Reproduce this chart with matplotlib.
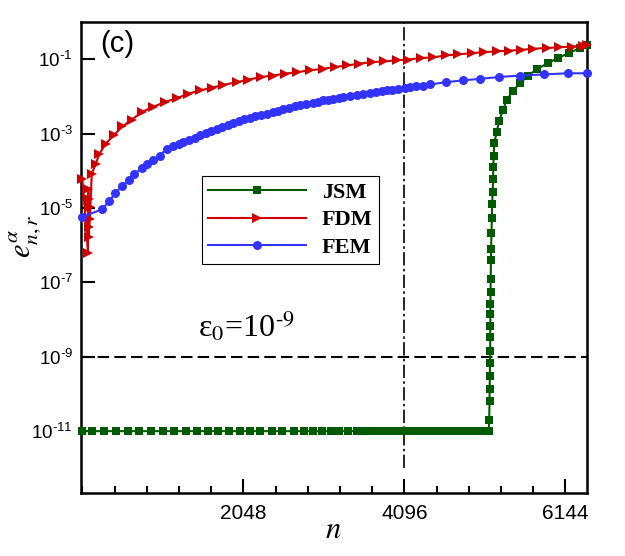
import numpy as np
import matplotlib
matplotlib.use("Agg")
import matplotlib.pyplot as plt
from matplotlib.ticker import FixedLocator, MultipleLocator, NullLocator

plt.rcParams['font.family'] = 'Liberation Sans'
plt.rcParams['mathtext.fontset'] = 'custom'
plt.rcParams['mathtext.rm'] = 'Liberation Sans'
plt.rcParams['mathtext.it'] = 'Liberation Sans:italic'

# values: n and log10(error)
jsm_n = [0, 119, 276, 429, 577, 725, 874, 1022, 1166, 1315, 1455, 1595, 1730, 1866,
         2002, 2133, 2264, 2409, 2536, 2690, 2820, 2935, 3050, 3160, 3270, 3380, 3490,
         3600, 3700, 3800, 3900, 4000, 4100, 4200, 4300, 4400, 4500, 4600, 4700, 4800,
         4900, 5000, 5090, 5170,
         5176, 5180, 5182, 5184, 5186, 5188, 5189, 5190, 5191, 5192, 5193, 5195, 5198,
         5200, 5205, 5210, 5213, 5220, 5225, 5228, 5233, 5240, 5271, 5301, 5348, 5398,
         5474, 5568, 5674, 5788, 5920, 6047, 6187, 6331, 6416]
jsm_exp = [-11.0, -11.0, -11.0, -11.0, -11.0, -11.0, -11.0, -11.0, -11.0, -11.0, -11.0,
           -11.0, -11.0, -11.0, -11.0, -11.0, -11.0, -11.0, -11.0, -11.0, -11.0, -11.0,
           -11.0, -11.0, -11.0, -11.0, -11.0, -11.0, -11.0, -11.0, -11.0, -11.0, -11.0,
           -11.0, -11.0, -11.0, -11.0, -11.0, -11.0, -11.0, -11.0, -11.0, -11.0, -11.0,
           -10.70, -10.19, -9.87, -9.51, -9.18, -8.84, -8.48, -8.18, -7.86, -7.57, -7.26,
           -6.92, -6.40, -6.09, -5.67, -5.27, -4.90, -4.57, -4.23, -3.90, -3.59, -3.26,
           -2.96, -2.67, -2.38, -2.11, -1.86, -1.64, -1.44, -1.26, -1.11, -0.97, -0.84,
           -0.70, -0.63]

fdm_n = [0, 72, 76, 80, 84, 88, 92, 96, 120, 170, 215, 300, 407, 509, 628, 756, 895,
         1052, 1201, 1348, 1497, 1646, 1794, 1964, 2112, 2269, 2422, 2578, 2727, 2896,
         3066, 3214, 3363, 3523, 3681, 3838, 3999, 4147, 4308, 4465, 4626, 4783, 4953,
         5113, 5271, 5428, 5580, 5737, 5907, 6067, 6225, 6373, 6416]
fdm_exp = [-4.21, -6.20, -4.48, -5.78, -4.75, -5.51, -4.98, -5.29, -4.08, -3.82, -3.55,
           -3.27, -3.03, -2.81, -2.63, -2.42, -2.29, -2.15, -2.05, -1.93, -1.84, -1.77,
           -1.69, -1.62, -1.55, -1.48, -1.44, -1.39, -1.35, -1.30, -1.26, -1.21, -1.17,
           -1.12, -1.08, -1.06, -1.03, -1.01, -0.97, -0.95, -0.90, -0.87, -0.84, -0.81,
           -0.79, -0.77, -0.75, -0.72, -0.70, -0.68, -0.66, -0.64, -0.63]

fem_n = [0, 247, 344, 416, 501, 594, 662, 756, 819, 903, 988, 1073, 1150, 1230, 1285,
         1360, 1430, 1497, 1570, 1640, 1710, 1780, 1850, 1921, 1990, 2060, 2133, 2200,
         2270, 2346, 2420, 2490, 2557, 2630, 2700, 2769, 2850, 2930, 3002, 3066, 3130,
         3193, 3260, 3320, 3400, 3490, 3570, 3660, 3730, 3808, 3870, 3936, 4020, 4105,
         4170, 4245, 4330, 4423, 4626, 4839, 5059, 5300, 5568, 5873, 6174, 6416]
fem_exp = [-5.24, -5.04, -4.82, -4.60, -4.42, -4.24, -4.08, -3.93, -3.83, -3.70, -3.59,
           -3.41, -3.34, -3.28, -3.23, -3.17, -3.11, -3.05, -2.99, -2.93, -2.87, -2.82,
           -2.77, -2.72, -2.67, -2.62, -2.57, -2.54, -2.50, -2.47, -2.43, -2.39, -2.35,
           -2.31, -2.27, -2.24, -2.21, -2.18, -2.15, -2.11, -2.10, -2.08, -2.05, -2.02,
           -1.99, -1.96, -1.93, -1.90, -1.88, -1.86, -1.84, -1.82, -1.80, -1.77, -1.75,
           -1.73, -1.71, -1.68, -1.62, -1.57, -1.53, -1.48, -1.44, -1.41, -1.38, -1.38]

eps0 = 1e-9
n_mark = 4096
x_ticks = [2048, 4096, 6144]
y_tick_exp = [-1, -3, -5, -7, -9, -11]

fig = plt.figure(figsize=(6.25, 5.56), dpi=100)
ax = fig.add_axes([0.1296, 0.1128, 0.8091, 0.8477])
ax.set_yscale('log')

ax.axhline(eps0, color='k', lw=1.5, linestyle=(0, (5.5, 2.5)), zorder=1)
ax.vlines(n_mark, 1e-12, 1.0, color='k', lw=1.2, linestyles=[(0, (8, 2, 1.5, 2))], zorder=1)

ax.plot(jsm_n, 10 ** np.array(jsm_exp), color='#005a00', lw=1.5, marker='s', ms=5.8,
        mew=0, label='JSM', clip_on=False, zorder=3)
ax.plot(fdm_n, 10 ** np.array(fdm_exp), color='#d00000', lw=1.5, marker='>', ms=7,
        mew=0, label='FDM', clip_on=False, zorder=3)
ax.plot(fem_n, 10 ** np.array(fem_exp), color='#3333ff', lw=1.5, marker='o', ms=6.5,
        mew=0, label='FEM', clip_on=False, zorder=3)

ax.set_xlim(-17, 6416)
ax.set_ylim(10 ** -12.67, 1.0)

ax.xaxis.set_major_locator(FixedLocator(x_ticks))
ax.xaxis.set_minor_locator(MultipleLocator(409.6))
ax.set_xticklabels([str(v) for v in x_ticks])
ax.yaxis.set_major_locator(FixedLocator([10.0 ** e for e in y_tick_exp]))
ax.yaxis.set_minor_locator(NullLocator())
ax.set_yticklabels(['10$^{\\text{-}%d}$' % -e for e in y_tick_exp])

ax.tick_params(which='both', direction='in', top=False, right=False, width=1.5)
ax.tick_params(which='major', length=10)
ax.tick_params(which='minor', length=5)
ax.tick_params(axis='x', labelsize=15, pad=8)
ax.tick_params(axis='y', labelsize=13.5, pad=6)
for sp in ax.spines.values():
    sp.set_linewidth(1.8)

leg = ax.legend(loc='upper left', bbox_to_anchor=(201.7 / 625, 1 - 176 / 556),
                bbox_transform=fig.transFigure,
                prop=dict(family='Liberation Serif', weight='bold', size=16),
                fancybox=False, edgecolor='k', framealpha=1, borderpad=0.3,
                handlelength=4.4, handletextpad=0.7, labelspacing=0.3,
                borderaxespad=0, numpoints=1)
leg.get_frame().set_linewidth(0.8)

fig.text(100 / 625, 1 - 44 / 556, '(c)', fontsize=21, va='center', ha='left')
fig.text(198 / 625, 1 - 337 / 556, 'ε$_0$=10$^{\\text{-}9}$', fontfamily='Liberation Serif',
         math_fontfamily='stix', fontsize=23, va='baseline', ha='left')
fig.text(333 / 625, 1 - 538 / 556, '$n$', math_fontfamily='stix', fontsize=22,
         ha='center', va='baseline')
fig.text(25 / 625, 1 - 236 / 556, r'$e_{n,r}^{\alpha}$', math_fontfamily='stix',
         fontsize=22, rotation=90, ha='center', va='center')

fig.savefig('out.png', dpi=100)
